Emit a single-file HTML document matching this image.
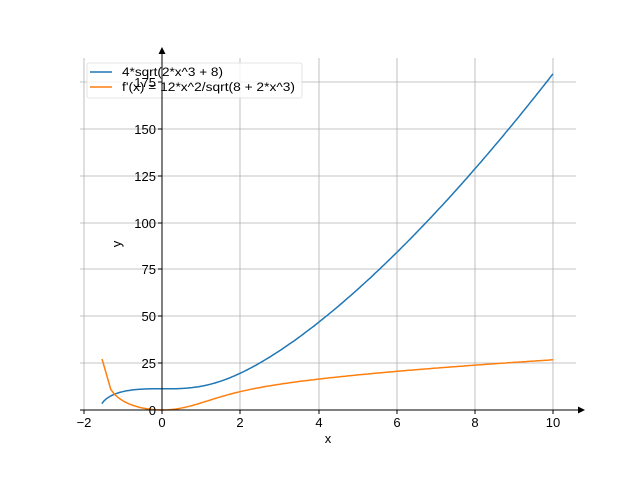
<!DOCTYPE html>
<html><head><meta charset="utf-8"><style>
body{margin:0;background:#fff}
svg{display:block;font-family:"Liberation Sans","DejaVu Sans",sans-serif}
</style></head><body>
<svg id="s" width="640" height="480" viewBox="0 0 640 480" xmlns="http://www.w3.org/2000/svg">
<rect width="640" height="480" fill="#fff"/>
<g stroke="#b0b0b0" stroke-width="0.8" fill="none">
<line x1="84" y1="58" x2="84" y2="410"/>
<line x1="240" y1="58" x2="240" y2="410"/>
<line x1="319" y1="58" x2="319" y2="410"/>
<line x1="397" y1="58" x2="397" y2="410"/>
<line x1="475" y1="58" x2="475" y2="410"/>
<line x1="553" y1="58" x2="553" y2="410"/>
<line x1="162" y1="58" x2="162" y2="410"/>
<line x1="80" y1="363" x2="576" y2="363"/>
<line x1="80" y1="316" x2="576" y2="316"/>
<line x1="80" y1="269" x2="576" y2="269"/>
<line x1="80" y1="223" x2="576" y2="223"/>
<line x1="80" y1="176" x2="576" y2="176"/>
<line x1="80" y1="129" x2="576" y2="129"/>
<line x1="80" y1="82" x2="576" y2="82"/>
</g>
<path id="blue" fill="none" stroke="#1f77b4" stroke-width="1.5"/>
<path id="orange" fill="none" stroke="#ff7f0e" stroke-width="1.5"/>
<rect x="87" y="63" width="215" height="35" rx="2" fill="#fff" fill-opacity="0.8" stroke="#ddd" stroke-width="0.8"/>
<line x1="90" y1="72" x2="112" y2="72" stroke="#1f77b4" stroke-width="1.5"/>
<line x1="90" y1="87" x2="112" y2="87" stroke="#ff7f0e" stroke-width="1.5"/>
<text x="122" y="76" font-size="11.5" textLength="101" lengthAdjust="spacingAndGlyphs">4*sqrt(2*x^3 + 8)</text>
<text x="122" y="91" font-size="11.5" textLength="173" lengthAdjust="spacingAndGlyphs">f'(x) = 12*x^2/sqrt(8 + 2*x^3)</text>
<g stroke="#000" stroke-width="1">
<line x1="80" y1="410" x2="583" y2="410"/>
<line x1="162" y1="410" x2="162" y2="52"/>
<line x1="84" y1="410" x2="84" y2="414"/>
<line x1="162" y1="410" x2="162" y2="414"/>
<line x1="240" y1="410" x2="240" y2="414"/>
<line x1="319" y1="410" x2="319" y2="414"/>
<line x1="397" y1="410" x2="397" y2="414"/>
<line x1="475" y1="410" x2="475" y2="414"/>
<line x1="553" y1="410" x2="553" y2="414"/>
<line x1="158" y1="410" x2="162" y2="410"/>
<line x1="158" y1="363" x2="162" y2="363"/>
<line x1="158" y1="316" x2="162" y2="316"/>
<line x1="158" y1="269" x2="162" y2="269"/>
<line x1="158" y1="223" x2="162" y2="223"/>
<line x1="158" y1="176" x2="162" y2="176"/>
<line x1="158" y1="129" x2="162" y2="129"/>
<line x1="158" y1="82" x2="162" y2="82"/>
</g>
<polygon points="585,410 578,406.5 578,413.5" fill="#000"/>
<polygon points="162,47 158.5,54 165.5,54" fill="#000"/>
<g font-size="13" fill="#000" text-anchor="middle">
<text x="84" y="427">−2</text><text x="162" y="427">0</text><text x="240" y="427">2</text>
<text x="319" y="427">4</text><text x="397" y="427">6</text><text x="475" y="427">8</text><text x="553" y="427">10</text>
<text x="328" y="443">x</text>
</g>
<g font-size="13" fill="#000" text-anchor="end">
<text x="156" y="415">0</text><text x="156" y="368">25</text><text x="156" y="321">50</text>
<text x="156" y="274">75</text><text x="156" y="228">100</text><text x="156" y="181">125</text>
<text x="156" y="134">150</text><text x="156" y="87">175</text>
</g>
<text x="121" y="244" font-size="13" text-anchor="middle" transform="rotate(-90 121 244)">y</text>
</svg>
<script>
var X=function(x){return 162+x*39.1},Y=function(y){return 410-y*1.8757};
var b="",o="M102,359";
for(var i=0;i<=200;i++){var x=-1.54+i*(11.54/200);var q=8+2*x*x*x;
var f=4*Math.sqrt(q);b+=(i?"L":"M")+X(x).toFixed(1)+","+Y(f).toFixed(1);
if(x>=-1.31){o+="L"+X(x).toFixed(1)+","+Y(12*x*x/Math.sqrt(q)).toFixed(1);}}
document.getElementById("blue").setAttribute("d",b);
document.getElementById("orange").setAttribute("d",o);
</script>
</body></html>
